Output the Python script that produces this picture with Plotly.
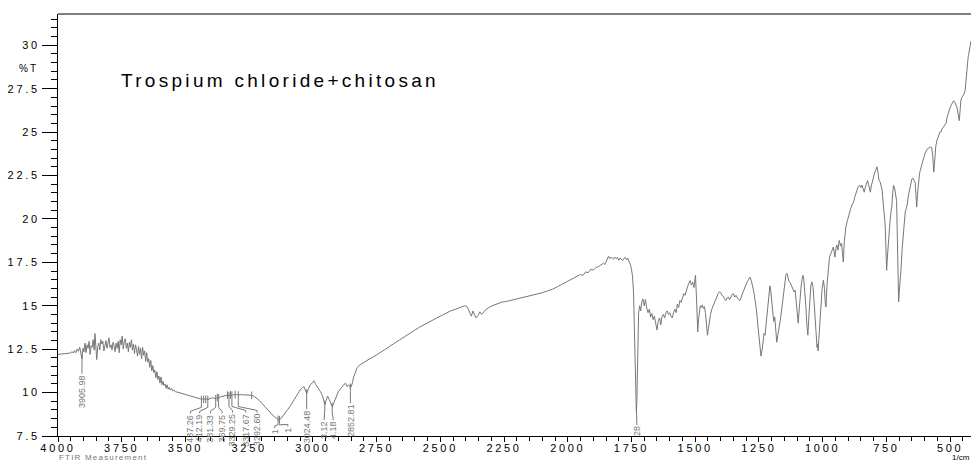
import numpy as np
import plotly.graph_objects as go

# FTIR spectrum: wavenumber (1/cm) and transmittance (%T)
wavenumber = [
    4000, 3990, 3980, 3970, 3960, 3950, 3945, 3940, 3935, 3930, 3925, 3920, 3915, 3910, 3906, 3902,
    3898, 3894, 3890, 3886, 3882, 3878, 3874, 3870, 3866, 3862, 3858, 3855, 3852, 3848, 3844, 3840,
    3836, 3832, 3828, 3824, 3820, 3816, 3812, 3808, 3804, 3800, 3796, 3792, 3788, 3784, 3780, 3776,
    3772, 3768, 3764, 3760, 3756, 3752, 3748, 3744, 3740, 3736, 3732, 3728, 3724, 3720, 3716, 3712,
    3708, 3704, 3700, 3696, 3692, 3688, 3684, 3680, 3676, 3672, 3668, 3664, 3660, 3656, 3652, 3648,
    3644, 3640, 3636, 3632, 3628, 3624, 3620, 3616, 3612, 3608, 3604, 3600, 3596, 3592, 3588, 3584,
    3580, 3576, 3572, 3568, 3564, 3560, 3555, 3550, 3545, 3540, 3530, 3520, 3510, 3500, 3490, 3480,
    3470, 3460, 3450, 3440, 3437, 3432, 3428, 3424, 3420, 3416, 3412, 3405, 3395, 3388, 3381, 3376,
    3372, 3369, 3362, 3352, 3342, 3335, 3329, 3323, 3317, 3310, 3300, 3292, 3280, 3265, 3250, 3240,
    3230, 3220, 3210, 3200, 3190, 3180, 3170, 3160, 3150, 3140, 3134, 3128, 3120, 3110, 3100, 3090,
    3080, 3070, 3060, 3050, 3040, 3035, 3030, 3024, 3018, 3010, 3000, 2996, 2990, 2980, 2970, 2962,
    2956, 2953, 2948, 2942, 2936, 2930, 2924, 2918, 2910, 2900, 2890, 2880, 2872, 2866, 2860, 2852,
    2846, 2840, 2834, 2826, 2815, 2800, 2780, 2760, 2740, 2720, 2700, 2680, 2660, 2640, 2620, 2600,
    2580, 2560, 2540, 2520, 2500, 2480, 2460, 2440, 2420, 2405, 2395, 2385, 2378, 2372, 2366, 2360,
    2352, 2345, 2338, 2330, 2320, 2300, 2280, 2260, 2240, 2220, 2200, 2180, 2160, 2140, 2120, 2100,
    2080, 2060, 2040, 2020, 2000, 1980, 1960, 1950, 1940, 1930, 1920, 1910, 1900, 1890, 1880, 1870,
    1860, 1855, 1850, 1845, 1840, 1835, 1830, 1825, 1820, 1815, 1810, 1805, 1800, 1795, 1790, 1785,
    1780, 1775, 1770, 1765, 1760, 1755, 1750, 1746, 1742, 1739, 1736, 1733, 1731, 1729, 1727, 1725,
    1722, 1718, 1714, 1710, 1705, 1700, 1695, 1690, 1685, 1680, 1675, 1670, 1665, 1660, 1655, 1650,
    1645, 1640, 1635, 1630, 1625, 1620, 1615, 1610, 1605, 1600, 1595, 1590, 1585, 1580, 1575, 1570,
    1565, 1560, 1555, 1550, 1545, 1540, 1535, 1530, 1525, 1520, 1515, 1510, 1505, 1502, 1499, 1496,
    1493, 1490, 1487, 1484, 1480, 1476, 1472, 1468, 1464, 1460, 1456, 1452, 1448, 1444, 1440, 1435,
    1430, 1425, 1420, 1415, 1410, 1405, 1400, 1395, 1390, 1385, 1380, 1375, 1370, 1365, 1360, 1355,
    1350, 1345, 1340, 1335, 1330, 1325, 1320, 1315, 1310, 1305, 1300, 1295, 1290, 1285, 1280, 1275,
    1270, 1265, 1260, 1255, 1250, 1246, 1242, 1238, 1234, 1230, 1226, 1222, 1218, 1214, 1210, 1207,
    1204, 1200, 1196, 1192, 1188, 1184, 1180, 1176, 1172, 1168, 1164, 1160, 1156, 1152, 1148, 1144,
    1140, 1136, 1132, 1128, 1124, 1120, 1116, 1112, 1108, 1104, 1100, 1096, 1092, 1088, 1084, 1080,
    1077, 1074, 1070, 1066, 1062, 1058, 1054, 1050, 1046, 1042, 1038, 1034, 1030, 1026, 1022, 1020,
    1018, 1014, 1010, 1006, 1002, 997, 993, 990, 987, 983, 978, 973, 968, 963, 958, 955,
    952, 948, 944, 940, 935, 930, 926, 922, 919, 915, 909, 903, 897, 891, 885, 879,
    873, 867, 861, 855, 850, 846, 842, 837, 833, 828, 824, 820, 816, 813, 809, 804,
    798, 792, 787, 783, 779, 775, 771, 767, 763, 759, 755, 752, 749, 746, 743, 740,
    736, 732, 729, 725, 722, 718, 714, 710, 707, 705, 702, 699, 696, 693, 688, 684,
    680, 676, 672, 668, 663, 658, 654, 650, 646, 641, 637, 634, 631, 628, 624, 620,
    617, 612, 606, 600, 598, 591, 584, 578, 572, 568, 564, 561, 556, 552, 546, 540,
    536, 532, 526, 520, 516, 512, 506, 500, 494, 489, 486, 481, 477, 473, 468, 464,
    461, 458, 454, 449, 445, 441, 437, 434, 430, 428, 424, 421, 418,
]
transmittance = [
    12.20, 12.22, 12.25, 12.24, 12.30, 12.28, 12.36, 12.28, 12.42, 12.30, 12.50, 12.38, 12.62, 12.25, 11.95, 12.55,
    12.35, 12.85, 12.30, 12.75, 12.55, 12.95, 12.20, 12.70, 12.60, 13.05, 12.45, 13.40, 12.40, 11.90, 12.65, 12.85,
    12.45, 13.05, 12.80, 12.95, 12.40, 12.70, 13.00, 12.55, 12.85, 13.15, 12.60, 12.75, 12.45, 12.90, 12.70, 12.35,
    12.85, 12.55, 12.95, 12.30, 13.05, 12.75, 13.25, 12.50, 12.95, 13.10, 12.55, 12.85, 12.35, 12.90, 12.60, 13.05,
    12.45, 12.80, 12.25, 12.75, 12.50, 12.10, 12.65, 12.20, 12.55, 11.95, 12.60, 12.15, 12.40, 11.80, 12.30, 11.75,
    11.95, 11.45, 11.85, 11.25, 11.55, 11.15, 11.30, 10.85, 11.20, 10.75, 10.95, 10.55, 10.90, 10.45, 10.65, 10.40,
    10.50, 10.25, 10.45, 10.20, 10.30, 10.15, 10.25, 10.10, 10.15, 10.05, 10.02, 9.98, 9.93, 9.90, 9.85, 9.80,
    9.76, 9.72, 9.68, 9.63, 9.60, 9.64, 9.60, 9.64, 9.60, 9.64, 9.60, 9.66, 9.70, 9.68, 9.64, 9.72,
    9.70, 9.68, 9.76, 9.80, 9.83, 9.85, 9.82, 9.87, 9.84, 9.88, 9.89, 9.86, 9.88, 9.88, 9.87, 9.84,
    9.78, 9.68, 9.54, 9.38, 9.22, 9.04, 8.86, 8.70, 8.58, 8.50, 8.42, 8.46, 8.60, 8.80, 9.00, 9.20,
    9.45, 9.70, 9.95, 10.15, 10.30, 10.35, 10.15, 9.95, 10.20, 10.45, 10.60, 10.68, 10.50, 10.30, 10.05, 9.80,
    9.45, 9.30, 9.55, 9.80, 9.60, 9.35, 9.18, 9.40, 9.75, 10.05, 10.25, 10.40, 10.55, 10.35, 10.45, 10.28,
    10.50, 10.90, 11.20, 11.45, 11.60, 11.75, 11.92, 12.08, 12.25, 12.45, 12.65, 12.85, 13.05, 13.25, 13.45, 13.60,
    13.78, 13.95, 14.10, 14.25, 14.40, 14.55, 14.70, 14.80, 14.90, 15.00, 14.95, 14.60, 14.40, 14.70, 14.50, 14.30,
    14.45, 14.65, 14.50, 14.65, 14.80, 14.98, 15.10, 15.20, 15.25, 15.32, 15.40, 15.45, 15.52, 15.60, 15.68, 15.75,
    15.85, 15.95, 16.10, 16.25, 16.40, 16.55, 16.70, 16.80, 16.75, 16.95, 16.90, 17.10, 17.05, 17.20, 17.25, 17.35,
    17.45, 17.38, 17.55, 17.70, 17.85, 17.70, 17.80, 17.75, 17.68, 17.80, 17.72, 17.78, 17.62, 17.75, 17.70, 17.60,
    17.72, 17.78, 17.65, 17.75, 17.55, 17.40, 17.10, 16.70, 15.80, 13.90, 11.80, 9.10, 8.90, 9.50, 11.50, 13.80,
    14.60, 15.00, 14.70, 15.20, 15.40, 15.00, 15.35, 14.85, 14.60, 14.80, 14.35, 14.55, 14.20, 14.40, 13.90, 13.60,
    14.10, 14.30, 13.90, 14.40, 14.50, 14.30, 14.60, 14.70, 14.50, 14.60, 14.40, 14.30, 14.60, 14.80, 14.60, 15.10,
    14.90, 15.30, 15.20, 15.50, 15.70, 15.60, 15.90, 16.10, 16.30, 16.45, 16.20, 16.35, 16.05, 16.40, 16.75, 15.80,
    13.90, 13.50, 14.20, 14.70, 15.00, 14.90, 15.05, 14.85, 14.95, 14.60, 13.90, 13.30, 13.70, 14.20, 14.50, 14.80,
    15.00, 15.20, 15.40, 15.55, 15.70, 15.80, 15.75, 15.60, 15.55, 15.40, 15.30, 15.45, 15.50, 15.35, 15.55, 15.65,
    15.70, 15.50, 15.60, 15.45, 15.35, 15.30, 15.50, 15.75, 15.95, 16.10, 16.25, 16.40, 16.55, 16.65, 16.45, 16.20,
    15.80, 15.30, 14.80, 14.00, 13.20, 12.50, 12.10, 12.40, 12.90, 13.40, 13.30, 13.90, 14.60, 15.30, 15.90, 16.15,
    15.90, 15.20, 14.40, 14.10, 14.35, 13.60, 12.90, 13.30, 13.80, 14.00, 14.40, 14.90, 15.60, 16.10, 16.50, 16.80,
    16.87, 16.60, 16.40, 16.35, 16.20, 16.10, 16.00, 15.80, 15.90, 15.20, 14.30, 14.00, 14.80, 15.60, 16.20, 16.60,
    16.75, 16.50, 15.90, 15.00, 13.90, 13.30, 14.40, 15.60, 16.20, 16.37, 16.10, 15.30, 14.40, 13.60, 12.60, 12.80,
    12.40, 13.40, 14.60, 15.50, 16.00, 16.47, 16.00, 15.20, 14.93, 16.20, 17.20, 17.80, 18.00, 18.20, 18.38, 18.10,
    17.80, 18.30, 18.50, 18.20, 18.76, 18.45, 18.60, 18.00, 17.52, 18.70, 19.53, 19.90, 20.30, 20.55, 20.80, 20.97,
    21.30, 21.60, 21.85, 21.95, 21.80, 21.95, 21.70, 21.54, 21.80, 22.10, 22.21, 22.00, 21.70, 21.54, 21.90, 22.30,
    22.55, 22.80, 23.00, 22.70, 22.20, 22.15, 21.93, 21.70, 21.00, 20.30, 19.72, 18.50, 17.04, 17.80, 18.60, 19.15,
    19.80, 20.40, 20.68, 21.50, 21.93, 21.80, 21.50, 21.06, 19.00, 16.80, 15.22, 15.90, 16.40, 17.04, 18.30, 19.20,
    19.80, 20.40, 20.60, 20.85, 21.40, 21.80, 22.10, 22.30, 22.35, 22.20, 22.10, 21.40, 20.68, 21.40, 22.20, 22.60,
    22.79, 23.10, 23.40, 23.65, 23.80, 24.00, 24.10, 24.15, 24.10, 23.60, 22.69, 23.40, 24.20, 24.50, 24.80, 25.00,
    25.00, 25.18, 25.30, 25.40, 25.50, 25.85, 26.20, 26.40, 26.60, 26.70, 26.81, 26.70, 26.55, 26.43, 26.00, 25.66,
    26.20, 26.80, 27.00, 27.10, 27.20, 27.40, 28.20, 28.72, 29.20, 29.40, 29.80, 30.00, 30.26,
]

# Picked peaks (1/cm); label text is the value printed with two decimals
peak_wavenumbers = [3905.98, 3437.26, 3412.19, 3381.33, 3369.75, 3329.25, 3317.67, 3292.60,
                    3136.61, 3130.81, 3024.48, 2953.12, 2924.18, 2852.81, 1730.28]
# peaks marked on the trace whose labels are hidden
hidden_peaks = [3428.5, 3420.5, 3375.0, 3335.0, 3323.0, 3305.0, 3240.0]

x_tick_values = [4000, 3750, 3500, 3250, 3000, 2750, 2500, 2250, 2000, 1750, 1500, 1250, 1000, 750, 500]
y_tick_values = [7.5, 10, 12.5, 15, 17.5, 20, 22.5, 25, 27.5, 30]
y_tick_labels = ["7.5", "10", "12.5", "15", "17.5", "20", "22.5", "25", "27.5", "30"]

title_text = "Trospium chloride+chitosan"

# --- label placement (layout only) ---
label_chars_visible = [7, 6, 6, 6, 6, 7, 7, 7, 1, 1, 7, 4, 4, 7, 2]
label_x = [3905.98, 3480.4, 3443.9, 3402.0, 3356.4, 3315.5, 3263.3, 3219.0,
           3149.5, 3098.5, 3024.48, 2956.0, 2920.7, 2852.81, 1728.8]
label_top = [11.09, 8.80, 8.80, 8.80, 8.80, 8.85, 8.85, 8.85,
             7.96, 8.05, 9.05, 8.42, 8.42, 9.40, 8.13]

GRAY = "#777777"
X_RANGE = [4000, 418]
Y_RANGE = [7.5, 31.8]

wn_arr = np.array(wavenumber, dtype=float)
t_arr = np.array(transmittance, dtype=float)


def level_at(w):
    return float(np.interp(w, wn_arr[::-1], t_arr[::-1]))


fig = go.Figure()

fig.add_trace(go.Scatter(x=wavenumber, y=transmittance, mode="lines",
                         line=dict(color=GRAY, width=1), hoverinfo="skip", showlegend=False))

# short vertical peak markers across the trace
mx, my = [], []
for p in peak_wavenumbers + hidden_peaks:
    v = level_at(p)
    mx += [p, p, None]
    my += [v + 0.22, v - 0.22, None]
fig.add_trace(go.Scatter(x=mx, y=my, mode="lines", line=dict(color=GRAY, width=1),
                         hoverinfo="skip", showlegend=False))

# leader lines from each peak down to its label
lx, ly = [], []
for p, xl, yt in zip(peak_wavenumbers, label_x, label_top):
    v = level_at(p)
    elbow = min(v - 0.3, yt + 0.35)
    lx += [p, p, xl, xl, None]
    ly += [v - 0.22, elbow, yt + 0.12, yt, None]
fig.add_trace(go.Scatter(x=lx, y=ly, mode="lines", line=dict(color=GRAY, width=1),
                         hoverinfo="skip", showlegend=False))

annotations = [
    dict(text=title_text, xref="paper", yref="paper", x=0.0668, y=0.842, xanchor="left",
         yanchor="middle", align="left", showarrow=False,
         font=dict(family="Liberation Sans, Arial", size=19, color="black")),
    dict(text="%T", xref="paper", yref="paper", x=-0.045, y=0.872, xanchor="left",
         yanchor="middle", align="left", showarrow=False,
         font=dict(family="Liberation Sans, Arial", size=10, color="black")),
    dict(text="FTIR Measurement", xref="paper", yref="paper", x=0.0, y=-0.064, xanchor="left",
         yanchor="bottom", align="left", showarrow=False, borderpad=0,
         font=dict(family="Liberation Sans, Arial", size=8, color=GRAY)),
    dict(text="1/cm", xref="paper", yref="paper", x=1.0, y=-0.064, xanchor="right",
         yanchor="bottom", align="right", showarrow=False, borderpad=0,
         font=dict(family="Liberation Sans, Arial", size=8, color="black")),
]
for p, keep, xl, yt in zip(peak_wavenumbers, label_chars_visible, label_x, label_top):
    annotations.append(dict(
        text=f"{p:.2f}"[-keep:], x=xl, y=yt, xref="x", yref="y", textangle=-90,
        xanchor="center", yanchor="top", showarrow=False, borderpad=0,
        font=dict(family="Liberation Sans Narrow, Arial Narrow, Arial", size=9, color=GRAY)))

fig.update_layout(
    width=971, height=463,
    margin=dict(l=58, r=0, t=14, b=27),
    paper_bgcolor="white", plot_bgcolor="white",
    showlegend=False,
    annotations=annotations,
    shapes=[dict(type="line", xref="paper", yref="paper", x0=0, x1=1, y0=1, y1=1,
                 line=dict(color="black", width=1))],
    font=dict(family="Liberation Sans, Arial", size=11, color="black"),
)
fig.update_xaxes(
    range=X_RANGE, tickmode="array", tickvals=x_tick_values,
    ticks="outside", ticklen=5, tickwidth=1, tickcolor="black", ticklabelstandoff=-3,
    showline=True, linecolor="black", linewidth=1, showgrid=False, zeroline=False,
    tickfont=dict(family="Liberation Sans, Arial", size=11, color="black"),
    minor=dict(tick0=4000, dtick=50, ticks="outside", ticklen=4, tickcolor="black", showgrid=False),
)
fig.update_yaxes(
    range=Y_RANGE, tickmode="array", tickvals=y_tick_values, ticktext=y_tick_labels,
    ticks="outside", ticklen=15, tickwidth=1, tickcolor="black",
    showline=True, linecolor="black", linewidth=1, showgrid=False, zeroline=False,
    tickfont=dict(family="Liberation Sans, Arial", size=11, color="black"),
    minor=dict(tick0=7.5, dtick=0.5, ticks="outside", ticklen=6, tickcolor="black", showgrid=False),
)

# wide letter spacing of the instrument printout typeface
letter_spacing_js = """
var s = document.createElement('style');
s.textContent = '.xtick text, .ytick text { letter-spacing: 2.7px; }'
  + ' .annotation[data-index="0"] text { letter-spacing: 3.3px; }'
  + ' .annotation[data-index="1"] text { letter-spacing: 2px; }'
  + ' .annotation[data-index="2"] text { letter-spacing: 1.2px; }';
document.head.appendChild(s);
"""

fig.write_html("out.html", post_script=letter_spacing_js)
